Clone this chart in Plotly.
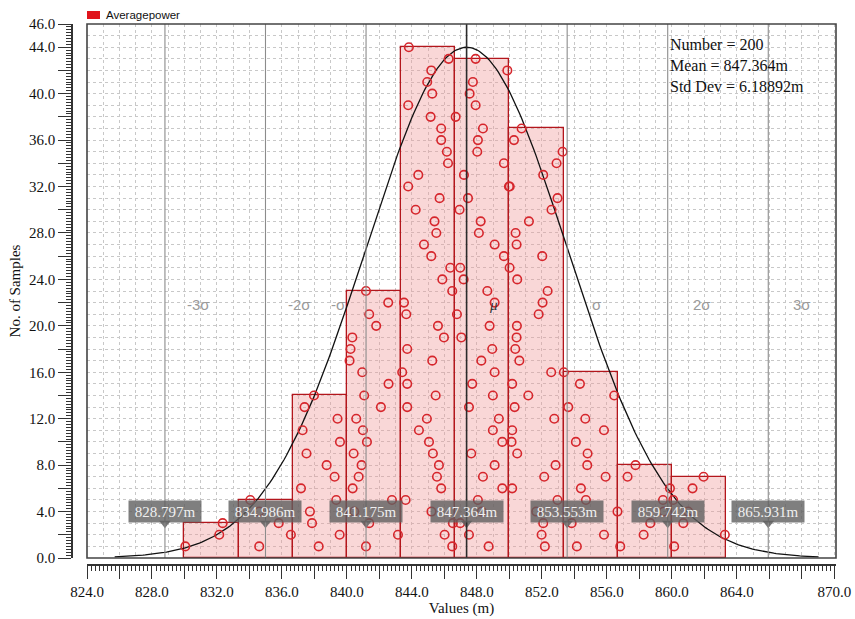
import numpy as np
import plotly.graph_objects as go

# ---------------- data ----------------
bin_edges = [830.0, 833.333, 836.667, 840.0, 843.333, 846.667, 850.0, 853.333, 856.667, 860.0, 863.333]
bin_counts = [3, 5, 14, 23, 44, 43, 37, 16, 8, 7]

# sample values in each bin, in stacking order (k-th sample drawn at height k)
samples_bin1 = [830.05, 832.14, 832.35]
samples_bin2 = [834.6, 836.55, 835.8, 834.6, 834.05]
samples_bin3 = [838.26, 839.55, 837.85, 837.72, 839.34, 837.17, 839.24, 838.75, 837.51, 839.57,
                837.27, 839.42, 837.39, 837.97]
samples_bin4 = [841.17, 843.14, 841.37, 840.45, 842.77, 840.35, 840.72, 840.9, 840.41, 841.23,
                840.98, 840.57, 842.09, 841.06, 842.56, 840.94, 840.16, 840.22, 840.33, 841.8,
                841.37, 842.54, 841.17]
samples_bin5 = [846.48, 846.01, 846.52, 845.2, 843.61, 845.80, 845.54, 845.66, 845.29, 845.05,
                844.43, 844.92, 843.71, 845.46, 843.71, 843.40, 845.25, 843.71, 845.97, 845.60,
                843.65, 843.51, 846.48, 845.87, 846.36, 845.19, 844.74, 845.50, 845.39, 844.23,
                845.70, 843.77, 844.39, 846.22, 846.15, 845.80, 845.80, 845.15, 843.77, 845.25,
                844.94, 845.19, 846.26, 843.81]
samples_bin6 = [848.72, 847.51, 846.97, 848.3, 848.06, 849.56, 848.37, 849.09, 847.65, 849.56,
                848.98, 849.35, 847.51, 848.98, 847.71, 849.09, 848.27, 848.94, 847.04, 848.78,
                846.77, 849.09, 848.64, 847.18, 846.97, 849.66, 849.09, 848.12, 848.23, 846.93,
                847.45, 849.97, 847.20, 849.66, 848.02, 848.06, 848.37, 846.69, 847.92, 847.55,
                847.75, 849.87, 847.92]
samples_bin7 = [852.18, 851.98, 852.08, 851.65, 852.96, 850.17, 852.14, 852.84, 850.48, 850.13,
                850.17, 852.76, 850.32, 851.16, 850.17, 852.57, 850.61, 850.36, 850.44, 850.46,
                851.80, 852.04, 852.35, 850.48, 850.01, 852.02, 850.44, 850.38, 851.20, 852.59,
                852.96, 850.02, 852.08, 852.90, 853.27, 850.28, 850.75]
samples_bin8 = [854.15, 855.82, 853.83, 856.65, 854.71, 854.40, 855.92, 854.79, 854.81, 854.09,
                855.82, 854.67, 853.62, 856.45, 854.34, 853.35]
samples_bin9 = [856.82, 858.26, 858.67, 859.5, 859.45, 859.88, 857.27, 857.76]
samples_bin10 = [860.14, 863.26, 860.70, 861.0, 860.08, 861.27, 861.95]
all_bins = [samples_bin1, samples_bin2, samples_bin3, samples_bin4, samples_bin5,
            samples_bin6, samples_bin7, samples_bin8, samples_bin9, samples_bin10]

n_samples = 200
mean_val = 847.364
std_val = 6.18892
curve_peak = 44.0

sigma_values = [828.797, 834.986, 841.175, 847.364, 853.553, 859.742, 865.931]
sigma_value_text = ["828.797m", "834.986m", "841.175m", "847.364m", "853.553m", "859.742m", "865.931m"]
sigma_names = ["-3σ", "-2σ", "-σ", "<i>μ</i>", "σ", "2σ", "3σ"]
sigma_name_x = [830.85, 837.1, 839.47, 849.05, 855.37, 861.86, 867.98]

x_tick_vals = list(range(824, 871, 2))
x_tick_text = [f"{v:.1f}" if (v % 4 == 0 and v <= 864) or v == 870 else "" for v in x_tick_vals]
y_tick_vals = list(range(0, 47, 2))
y_tick_text = [f"{v:.1f}" if (v % 4 == 0) or v == 46 else "" for v in y_tick_vals]

# ---------------- figure ----------------
SERIF = "Liberation Serif, Times New Roman, serif"
SANS = "Liberation Sans, Arial, sans-serif"
W, H = 855, 619
ML, MR, MT, MB = 60, 19, 24, 40
PW, PH = W - ML - MR, H - MT - MB


def px_x(p):
    return (p - ML) / PW


def px_y(p):
    return (H - MB - p) / PH


fig = go.Figure()

centers = [(bin_edges[i] + bin_edges[i + 1]) / 2 for i in range(len(bin_counts))]
widths = [bin_edges[i + 1] - bin_edges[i] for i in range(len(bin_counts))]
fig.add_trace(go.Bar(
    x=centers, y=bin_counts, width=widths,
    marker=dict(color="rgba(240,150,150,0.38)", line=dict(color="#B3161C", width=1.3)),
    showlegend=False, hoverinfo="skip"))

xc = np.linspace(mean_val - 3.5 * std_val, mean_val + 3.5 * std_val, 300)
yc = curve_peak * np.exp(-0.5 * ((xc - mean_val) / std_val) ** 2)
fig.add_trace(go.Scatter(x=xc, y=yc, mode="lines", line=dict(color="#111111", width=1.3),
                         showlegend=False, hoverinfo="skip"))

dot_x, dot_y = [], []
for b in all_bins:
    for k, v in enumerate(b):
        dot_x.append(v)
        dot_y.append(k + 1)
fig.add_trace(go.Scatter(x=dot_x, y=dot_y, mode="markers",
                         marker=dict(symbol="circle-open", size=8.5, color="#D6262C",
                                     line=dict(width=1.6, color="#D6262C")),
                         showlegend=False))

# callout pointers
fig.add_trace(go.Scatter(x=sigma_values, y=[3.0] * len(sigma_values), mode="markers",
                         marker=dict(symbol="triangle-down", size=10, color="rgba(95,95,95,0.85)"),
                         showlegend=False, hoverinfo="skip"))

# ruler axes carrier
fig.add_trace(go.Scatter(x=[None], y=[None], xaxis="x2", yaxis="y2", showlegend=False))

shapes = []
for i, s in enumerate(sigma_values):
    shapes.append(dict(type="line", xref="x", yref="y domain", x0=s, x1=s, y0=0, y1=1,
                       line=dict(color="#2b2b2b" if i == 3 else "#8c8c8c", width=1.6 if i == 3 else 1.1),
                       layer="above"))
shapes.append(dict(type="rect", xref="x domain", yref="y domain", x0=0, x1=1, y0=0, y1=1,
                   line=dict(color="#444444", width=1.6), layer="above"))
# legend swatch
shapes.append(dict(type="rect", xref="paper", yref="paper",
                   x0=px_x(87), x1=px_x(100), y0=px_y(19), y1=px_y(11),
                   fillcolor="#E0141C", line=dict(width=0)))

annotations = []
annotations.append(dict(xref="paper", yref="paper", x=px_x(104), y=px_y(15.5), xanchor="left",
                        yanchor="middle", text="Averagepower", showarrow=False,
                        font=dict(family=SANS, size=11.5, color="#111")))
for s, t in zip(sigma_values, sigma_value_text):
    annotations.append(dict(x=s, y=4.0, xref="x", yref="y", text=t, showarrow=False,
                            bgcolor="rgba(95,95,95,0.8)", width=70, height=19, borderpad=1,
                            font=dict(family=SERIF, size=15, color="#efefef")))
for nm, xx in zip(sigma_names, sigma_name_x):
    is_mu = nm == "<i>μ</i>"
    annotations.append(dict(x=xx, y=21.8, xref="x", yref="y", text=nm, showarrow=False,
                            font=dict(family=SERIF if is_mu else SANS,
                                      size=15,
                                      color="#333" if is_mu else "#9a9a9a")))
annotations.append(dict(x=859.75, y=42.45, xref="x", yref="y", xanchor="left", yanchor="middle",
                        align="left", showarrow=False,
                        text=f"Number = {n_samples}<br>Mean = {mean_val}m<br>Std Dev = {std_val}m",
                        font=dict(family=SERIF, size=16, color="#111")))

grid_style = dict(showgrid=True, dtick=1, gridcolor="#c8c8c8", griddash="dot", gridwidth=1,
                  showticklabels=False, ticks="", showline=False, zeroline=False)
ruler_style = dict(showline=True, linecolor="#333", linewidth=1.5, ticks="outside", ticklen=13,
                   tickwidth=1, tickcolor="#333", tickmode="array", showgrid=False, zeroline=False,
                   tickfont=dict(family=SERIF, size=15, color="#111"),
                   minor=dict(dtick=0.25, ticklen=5, tickcolor="#333", ticks="outside", showgrid=False),
                   automargin=False)

fig.update_layout(
    width=W, height=H,
    margin=dict(l=ML, r=MR, t=MT, b=MB),
    paper_bgcolor="white", plot_bgcolor="white",
    bargap=0,
    xaxis=dict(range=[824, 870.1], domain=[px_x(87), 1], anchor="y", **grid_style),
    yaxis=dict(range=[0, 46], domain=[px_y(558), 1], anchor="x", **grid_style),
    xaxis2=dict(range=[824, 870.1], overlaying="x", anchor="free", position=px_y(565), side="bottom",
                domain=[px_x(87), 1], tickvals=x_tick_vals, ticktext=x_tick_text,
                title=dict(text="Values (m)", font=dict(family=SERIF, size=15, color="#111"), standoff=2),
                **ruler_style),
    yaxis2=dict(range=[0, 46], overlaying="y", anchor="free", position=px_x(72), side="left",
                domain=[px_y(558), 1], tickvals=y_tick_vals, ticktext=y_tick_text,
                title=dict(text="No. of Samples", font=dict(family=SERIF, size=15, color="#111"), standoff=4),
                **ruler_style),
    shapes=shapes, annotations=annotations, showlegend=False,
)

fig.write_html("out.html", config={"displayModeBar": False},
               post_script="document.body.style.margin='0px';document.body.style.overflow='hidden';")
